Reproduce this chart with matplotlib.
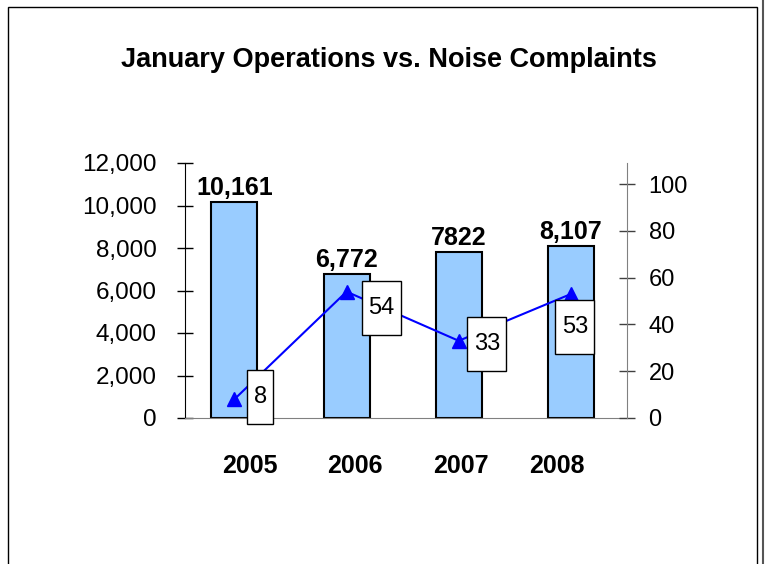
import matplotlib
matplotlib.use("Agg")
import matplotlib.pyplot as plt
import matplotlib.transforms as mtransforms
from matplotlib.patches import Rectangle
from matplotlib.lines import Line2D
from matplotlib.path import Path
from matplotlib.ticker import FuncFormatter

plt.rcParams['font.family'] = ['Liberation Sans', 'DejaVu Sans']

# data
years = ["2005", "2006", "2007", "2008"]
operations = [10161, 6772, 7822, 8107]
operation_labels = ["10,161", "6,772", "7822", "8,107"]
complaints = [8, 54, 33, 53]
# label box offsets (pixels) relative to each marker
box_offsets = [(26, 2), (35, -16), (28, -3), (4, -33)]
# year labels sit slightly off the bar centres in the original
year_shift = [16, 8, 2, -14]


def tall_box(x0, y0, width, height, mutation_size):
    # rectangle with more vertical than horizontal padding, like Excel labels
    px = 0.27 * mutation_size
    py = 0.68 * mutation_size
    verts = [(x0 - px, y0 - py), (x0 + width + px, y0 - py),
             (x0 + width + px, y0 + height + py), (x0 - px, y0 + height + py),
             (x0 - px, y0 - py)]
    return Path(verts, closed=True)


fig = plt.figure(figsize=(7.65, 5.64), dpi=100)
ax1 = fig.add_axes([185 / 765, 1 - 418 / 564, (627 - 185) / 765, (418 - 163) / 564])
ax2 = ax1.twinx()

x = list(range(len(years)))

# bars
ax1.bar(x, operations, width=0.41, color="#99CCFF", edgecolor="black", linewidth=1.5, zorder=2)
for xi, v, lab in zip(x, operations, operation_labels):
    ax1.annotate(lab, (xi, v), xytext=(0, 7), textcoords="offset pixels",
                 ha="center", va="baseline", fontsize=18, fontweight="bold")

ax1.set_xlim(-0.44, 3.5)
ax1.set_ylim(0, 12000)
ax1.set_yticks(range(0, 12001, 2000))
ax1.yaxis.set_major_formatter(FuncFormatter(lambda v, p: f"{int(v):,}"))
ax1.set_xticks(x)
ax1.set_xticklabels(years, fontsize=18, fontweight="bold")
ax1.tick_params(axis="x", length=0, pad=26)
ax1.tick_params(axis="y", direction="inout", length=11, width=1, labelsize=17.5, pad=15)
for lab, dx in zip(ax1.get_xticklabels(), year_shift):
    lab.set_transform(lab.get_transform() + mtransforms.ScaledTranslation(dx / 100, 0, fig.dpi_scale_trans))

for s in ["top", "right"]:
    ax1.spines[s].set_visible(False)
ax1.spines["left"].set_color("black")
ax1.spines["bottom"].set_color("#808080")

# line on secondary axis
ax2.plot(x, complaints, color="#0000FF", linewidth=1.5, marker="^", markersize=10, zorder=3)
for xi, v, (dx, dy) in zip(x, complaints, box_offsets):
    ax2.annotate(str(v), (xi, v), xytext=(dx, dy), textcoords="offset pixels",
                 ha="center", va="center", fontsize=17,
                 bbox=dict(boxstyle=tall_box, fc="white", ec="black", lw=1),
                 zorder=5, annotation_clip=False)

ax2.set_ylim(0, 109)
ax2.set_yticks(range(0, 101, 20))
ax2.tick_params(axis="y", direction="inout", length=11, width=1, labelsize=17, pad=10, color="#404040")
for s in ["top", "left", "bottom"]:
    ax2.spines[s].set_visible(False)
ax2.spines["right"].set_color("#808080")

# title
fig.text(389 / 765, 1 - 67 / 564, "January Operations vs. Noise Complaints",
         ha="center", va="baseline", fontsize=19.5, fontweight="bold")

# chart frame
fig.add_artist(Rectangle((8 / 765, -0.01), (757 - 8) / 765, 1.01 - 7 / 564,
                         transform=fig.transFigure, fill=False, ec="black", lw=1))
fig.add_artist(Line2D([763 / 765, 763 / 765], [0, 1], transform=fig.transFigure,
                      color="#555555", lw=1.5))

fig.savefig("out.png", dpi=100)
